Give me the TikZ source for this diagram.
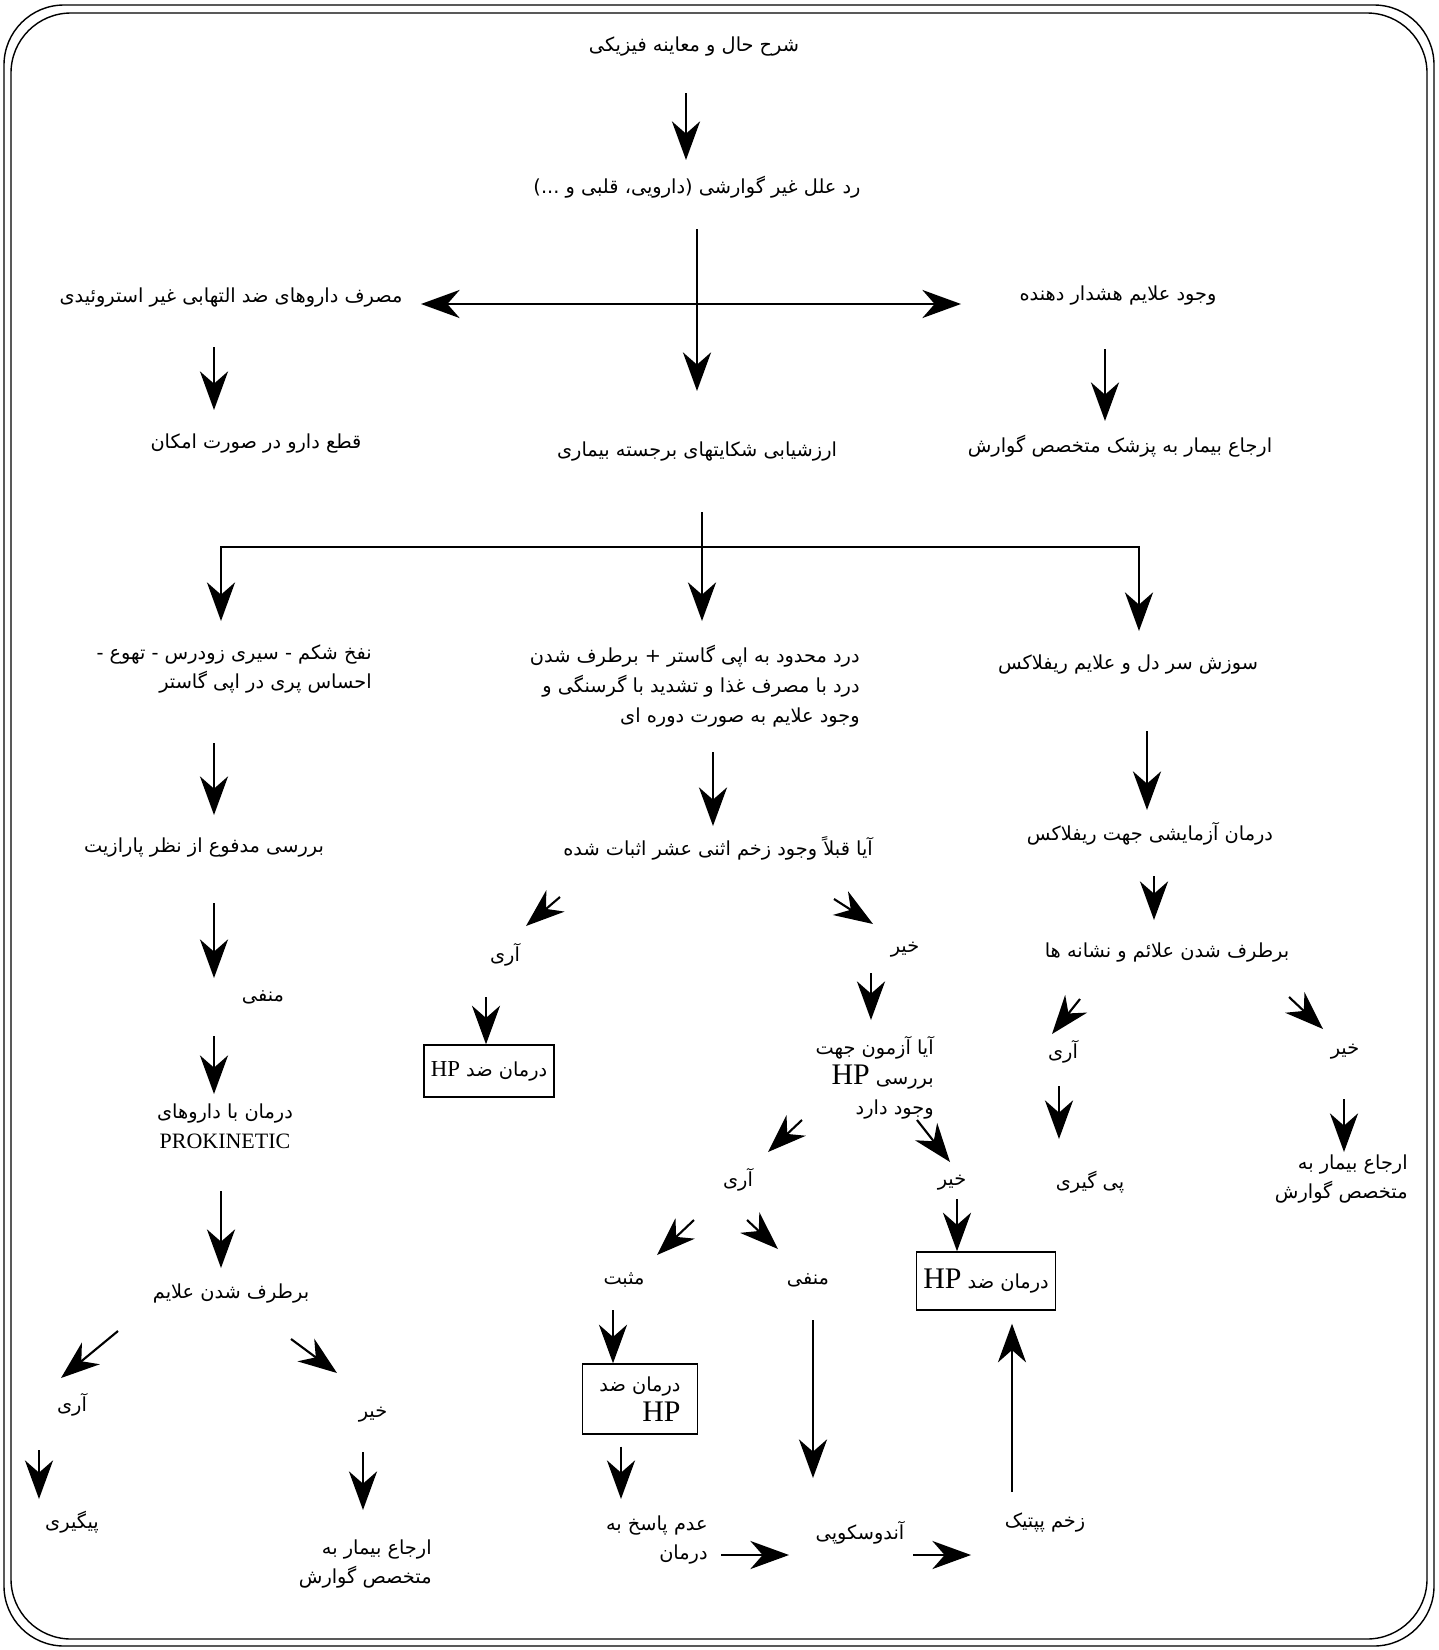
\documentclass[tikz,border=0pt]{standalone}
\usepackage{fontspec}
\setmainfont{Liberation Serif}
\newfontfamily\farsifont[Script=Arabic]{DejaVu Sans}
\TeXXeTstate=1
\usetikzlibrary{arrows.meta,calc}
\newcommand{\fa}[1]{{\farsifont\beginR #1\endR}}
\newcommand{\hpsmall}{{\rmfamily\fontsize{13}{13}\selectfont HP}}
\newcommand{\hpbig}{{\rmfamily\fontsize{17}{17}\selectfont HP}}
\tikzset{
  txt/.style={inner sep=0pt, font=\fontsize{11}{17}\selectfont},
  hpbox/.style={draw, line width=0.8pt, inner sep=0pt, font=\fontsize{11}{17}\selectfont},
  arr/.style={line width=1.2pt, -{Stealth[length=22pt,width=16pt,inset=7pt]}},
  darr/.style={line width=1.1pt, {Stealth[length=22pt,width=16pt,inset=7pt]}-{Stealth[length=22pt,width=16pt,inset=7pt]}},
  frame/.style={line width=0.8pt, rounded corners=1.2cm}
}
\begin{document}
\begin{tikzpicture}[x=0.02cm, y=-0.02cm]
\useasboundingbox (0,0) rectangle (1438,1650);
\draw[frame] (4,5) rectangle (1434,1646);
\draw[frame] (11,13) rectangle (1427,1639);

% top part
\node[txt] (title) at (694,47) {\fa{شرح حال و معاینه فیزیکی}};
\node[txt] (rule) at (697,187) {\fa{رد علل غیر گوارشی (دارویی، قلبی و ...)}};
\node[txt] (nsaid) at (231,298) {\fa{مصرف داروهای ضد التهابی غیر استروئیدی}};
\node[txt] (warn) at (1118,296) {\fa{وجود علایم هشدار دهنده}};
\node[txt] (stop) at (256,444) {\fa{قطع دارو در صورت امکان}};
\node[txt] (eval) at (697,452) {\fa{ارزشیابی شکایتهای برجسته بیماری}};
\node[txt] (refer1) at (1120,446) {\fa{ارجاع بیمار به پزشک متخصص گوارش}};

\draw[arr] ($(title)+(-8,46)$) -- ($(rule)+(-11,-27)$);
\draw[arr] ($(rule)+(0,42)$) -- ($(eval)+(0,-61)$);
\draw[darr] ($(nsaid)+(190,6)$) -- ($(warn)+(-157,8)$);
\draw[arr] ($(nsaid)+(-17,49)$) -- ($(stop)+(-42,-34)$);
\draw[arr] ($(warn)+(-13,53)$) -- ($(refer1)+(-15,-25)$);

% three complaint groups
\node[txt, anchor=east, align=right] (bloat) at (372,669) {\fa{نفخ شکم - سیری زودرس - تهوع -}\\\fa{احساس پری در اپی گاستر}};
\node[txt, anchor=east, align=right] (pain) at (860,686) {\fa{درد محدود به اپی گاستر + برطرف شدن}\\\fa{درد با مصرف غذا و تشدید با گرسنگی و}\\\fa{وجود علایم به صورت دوره ای}};
\node[txt] (heart) at (1128,665) {\fa{سوزش سر دل و علایم ریفلاکس}};

\draw[arr] ($(eval)+(5,60)$) -- ($(pain.east)+(-158,-65)$);
\draw[arr] ($(eval)+(5,95)$) -| ($(bloat.east)+(-151,-48)$);
\draw[arr] ($(eval)+(5,95)$) -| ($(heart)+(11,-34)$);

% left column
\node[txt] (stool) at (204,848) {\fa{بررسی مدفوع از نظر پارازیت}};
\node[txt] (neg1) at (263,997) {\fa{منفی}};
\node[txt, align=center] (proki) at (225,1126) {\fa{درمان با داروهای}\\{\fontsize{12.5}{15}\selectfont PROKINETIC}};
\node[txt] (relief1) at (231,1294) {\fa{برطرف شدن علایم}};
\node[txt] (yes1) at (72,1405) {\fa{آری}};
\node[txt] (no1) at (373,1415) {\fa{خیر}};
\node[txt] (follow1) at (72,1522) {\fa{پیگیری}};
\node[txt, anchor=east, align=right] (refer2) at (432,1564) {\fa{ارجاع بیمار به}\\\fa{متخصص گوارش}};

\draw[arr] ($(bloat.east)+(-158,74)$) -- ($(stool)+(10,-33)$);
\draw[arr] ($(stool)+(10,55)$) -- ($(neg1)+(-49,-19)$);
\draw[arr] ($(neg1)+(-49,39)$) -- ($(proki)+(-11,-32)$);
\draw[arr] ($(proki)+(-4,65)$) -- ($(relief1)+(-10,-26)$);
\draw[arr] ($(relief1)+(-113,37)$) -- ($(yes1)+(-11,-27)$);
\draw[arr] ($(relief1)+(60,45)$) -- ($(no1)+(-36,-42)$);
\draw[arr] ($(yes1)+(-33,45)$) -- ($(follow1)+(-33,-23)$);
\draw[arr] ($(no1)+(-10,37)$) -- ($(refer2.east)+(-69,-54)$);

% middle column
\node[txt] (ulcerq) at (718,848) {\fa{آیا قبلاً وجود زخم اثنی عشر اثبات شده}};
\node[txt] (yes2) at (505,955) {\fa{آری}};
\node[txt] (no2) at (905,950) {\fa{خیر}};
\node[hpbox, minimum width=2.6cm, minimum height=1.04cm] (hpa) at (489,1071) {\fa{درمان ضد \hpsmall}};
\node[txt, anchor=east, align=right] (hptest) at (934,1078) {\fa{آیا آزمون جهت}\\\fa{بررسی \hpbig}\\\fa{وجود دارد}};
\node[txt] (yes3) at (738,1180) {\fa{آری}};
\node[txt] (no3) at (952,1183) {\fa{خیر}};
\node[hpbox, minimum width=2.78cm, minimum height=1.16cm] (hpb) at (986,1281) {\fa{درمان ضد \hpbig}};
\node[txt] (pos) at (624,1280) {\fa{مثبت}};
\node[txt] (neg2) at (808,1280) {\fa{منفی}};
\node[hpbox, minimum width=2.3cm, minimum height=1.4cm, align=right] (hpc) at (640,1399) {\fa{درمان ضد}\\\hpbig};
\node[txt, anchor=east, align=right] (nores) at (708,1540) {\fa{عدم پاسخ به}\\\fa{درمان}};
\node[txt] (endo) at (860,1533) {\fa{آندوسکوپی}};
\node[txt] (peptic) at (1045,1522) {\fa{زخم پپتیک}};

\draw[arr] ($(pain.east)+(-147,66)$) -- ($(ulcerq)+(-5,-22)$);
\draw[arr] ($(ulcerq)+(-158,49)$) -- ($(yes2)+(21,-29)$);
\draw[arr] ($(ulcerq)+(116,51)$) -- ($(no2)+(-32,-26)$);
\draw[arr] ($(yes2)+(-19,42)$) -- ($(hpa.north)+(-3,0)$);
\draw[arr] ($(no2)+(-34,23)$) -- ($(hptest.east)+(-63,-58)$);
\draw[arr] ($(hptest.east)+(-132,42)$) -- ($(yes3)+(30,-28)$);
\draw[arr] ($(hptest.east)+(-17,42)$) -- ($(no3)+(-2,-21)$);
\draw[arr] ($(no3)+(5,16)$) -- ($(hpb.north)+(-29,0)$);
\draw[arr] ($(yes3)+(-44,40)$) -- ($(pos)+(33,-25)$);
\draw[arr] ($(yes3)+(9,40)$) -- ($(neg2)+(-30,-31)$);
\draw[arr] ($(pos)+(-11,30)$) -- ($(hpc.north)+(-27,0)$);
\draw[arr] ($(hpc.south)+(-19,12)$) -- ($(nores.east)+(-87,-41)$);
\draw[arr] ($(neg2)+(5,40)$) -- ($(endo)+(-47,-55)$);
\draw[arr] ($(nores.east)+(13,15)$) -- ($(endo)+(-71,22)$);
\draw[arr] ($(endo)+(53,22)$) -- ($(peptic)+(-74,33)$);
\draw[arr] ($(peptic)+(-33,-30)$) -- ($(hpb.south)+(26,13)$);

% right column
\node[txt] (trial) at (1150,834) {\fa{درمان آزمایشی جهت ریفلاکس}};
\node[txt] (relief2) at (1167,953) {\fa{برطرف شدن علائم و نشانه ها}};
\node[txt] (yes4) at (1063,1052) {\fa{آری}};
\node[txt] (no4) at (1345,1052) {\fa{خیر}};
\node[txt] (follow2) at (1090,1182) {\fa{پی گیری}};
\node[txt, anchor=east, align=right] (refer3) at (1408,1179) {\fa{ارجاع بیمار به}\\\fa{متخصص گوارش}};

\draw[arr] ($(heart)+(19,66)$) -- ($(trial)+(-3,-24)$);
\draw[arr] ($(trial)+(4,42)$) -- ($(relief2)+(-13,-33)$);
\draw[arr] ($(relief2)+(-87,46)$) -- ($(yes4)+(-11,-18)$);
\draw[arr] ($(relief2)+(122,44)$) -- ($(no4)+(-22,-23)$);
\draw[arr] ($(yes4)+(-4,34)$) -- ($(follow2)+(-31,-43)$);
\draw[arr] ($(no4)+(-1,47)$) -- ($(refer3.east)+(-64,-27)$);
\end{tikzpicture}
\end{document}
